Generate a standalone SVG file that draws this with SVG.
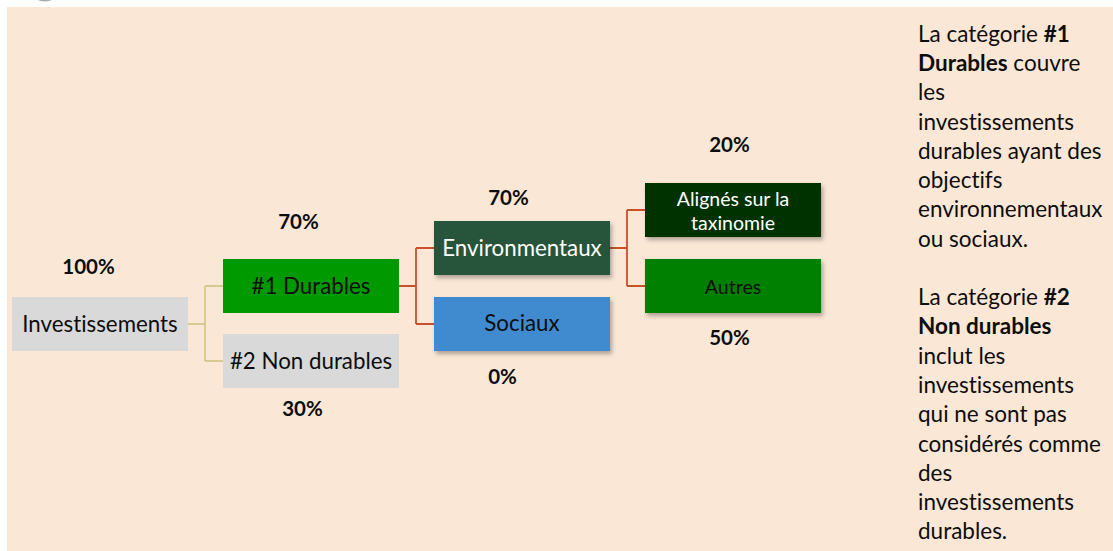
<svg xmlns="http://www.w3.org/2000/svg" width="1113" height="551" viewBox="0 0 1113 551">
<defs>
<style>
text{font-variant-ligatures:none;font-feature-settings:"liga" 0}
.bx{font-family:Lato,"Liberation Sans",sans-serif;font-size:22.3px;text-anchor:middle;fill:#0d0d0d}
.sm{font-size:19.5px}
.wt{fill:#ffffff}
.pc{font-family:Lato,"Liberation Sans",sans-serif;font-size:20.5px;font-weight:bold;text-anchor:middle;fill:#0d0d0d}
.rt{font-family:Lato,"Liberation Sans",sans-serif;font-size:22.5px;fill:#0d0d0d}
.b{font-weight:bold}
.k{fill:none;stroke:#CDC07A;stroke-width:1.4}
.r{fill:none;stroke:#C9502C;stroke-width:1.8}
</style>
<filter id="sh" x="-10%" y="-20%" width="130%" height="160%">
<feDropShadow dx="2" dy="3" stdDeviation="2" flood-color="#000" flood-opacity="0.3"/>
</filter>
</defs>
<rect x="0" y="0" width="1113" height="551" fill="#ffffff"/>
<rect x="7" y="7" width="1106" height="544" fill="#FAE7D6"/>
<ellipse cx="45" cy="-6" rx="12" ry="7.5" fill="#a8a8a8"/>

<g id="connectors">
<path class="k" d="M188 324 H205 M205 286 V361 M205 286 H223 M205 361 H223"/>
<path class="r" d="M399 286 H416 M416 248 V324 M416 248 H434 M416 324 H434"/>
<path class="r" d="M610 248 H627 M627 210 V286 M627 210 H645 M627 286 H645"/>
</g>

<g id="investissements">
<rect x="12" y="297" width="176" height="54" fill="#D9D9D9"/>
<text class="bx" x="100" y="331.5">Investissements</text>
</g>
<g id="durables">
<rect x="223" y="259" width="176" height="54" fill="#009900"/>
<text class="bx" x="311" y="293.5">#1 Durables</text>
</g>
<g id="non-durables">
<rect x="223" y="334" width="176" height="54" fill="#D9D9D9"/>
<text class="bx" x="311" y="368.5">#2 Non durables</text>
</g>
<g id="environmentaux">
<rect x="434" y="221" width="176" height="54" fill="#25553A" filter="url(#sh)"/>
<text class="bx wt" x="522" y="255.5">Environmentaux</text>
</g>
<g id="sociaux">
<rect x="434" y="297" width="176" height="54" fill="#3F8BD0" filter="url(#sh)"/>
<text class="bx" x="522" y="331">Sociaux</text>
</g>
<g id="alignes">
<rect x="645" y="183" width="176" height="54" fill="#003300" filter="url(#sh)"/>
<text class="bx sm wt" x="733" y="206">Alignés sur la</text>
<text class="bx sm wt" x="733" y="229.5">taxinomie</text>
</g>
<g id="autres">
<rect x="645" y="259" width="176" height="54" fill="#008000" filter="url(#sh)"/>
<text class="bx sm" x="733" y="293.5">Autres</text>
</g>

<g id="percentages">
<text class="pc" x="88.5" y="273.5">100%</text>
<text class="pc" x="298.5" y="228.5">70%</text>
<text class="pc" x="302.5" y="416">30%</text>
<text class="pc" x="508.5" y="205">70%</text>
<text class="pc" x="502.5" y="383.5">0%</text>
<text class="pc" x="729.5" y="151.5">20%</text>
<text class="pc" x="729.5" y="344.5">50%</text>
</g>

<g id="legend">
<text class="rt" x="918" y="41.7">La catégorie <tspan class="b">#1</tspan></text>
<text class="rt" x="918" y="71"><tspan class="b">Durables</tspan> couvre</text>
<text class="rt" x="918" y="100.3">les</text>
<text class="rt" x="918" y="129.5">investissements</text>
<text class="rt" x="918" y="158.8">durables ayant des</text>
<text class="rt" x="918" y="188">objectifs</text>
<text class="rt" x="918" y="217.3">environnementaux</text>
<text class="rt" x="918" y="246.6">ou sociaux.</text>
<text class="rt" x="918" y="305.2">La catégorie <tspan class="b">#2</tspan></text>
<text class="rt b" x="918" y="334.4">Non durables</text>
<text class="rt" x="918" y="363.7">inclut les</text>
<text class="rt" x="918" y="393">investissements</text>
<text class="rt" x="918" y="422.3">qui ne sont pas</text>
<text class="rt" x="918" y="451.5">considérés comme</text>
<text class="rt" x="918" y="480.8">des</text>
<text class="rt" x="918" y="510">investissements</text>
<text class="rt" x="918" y="539.3">durables.</text>
</g>
</svg>
